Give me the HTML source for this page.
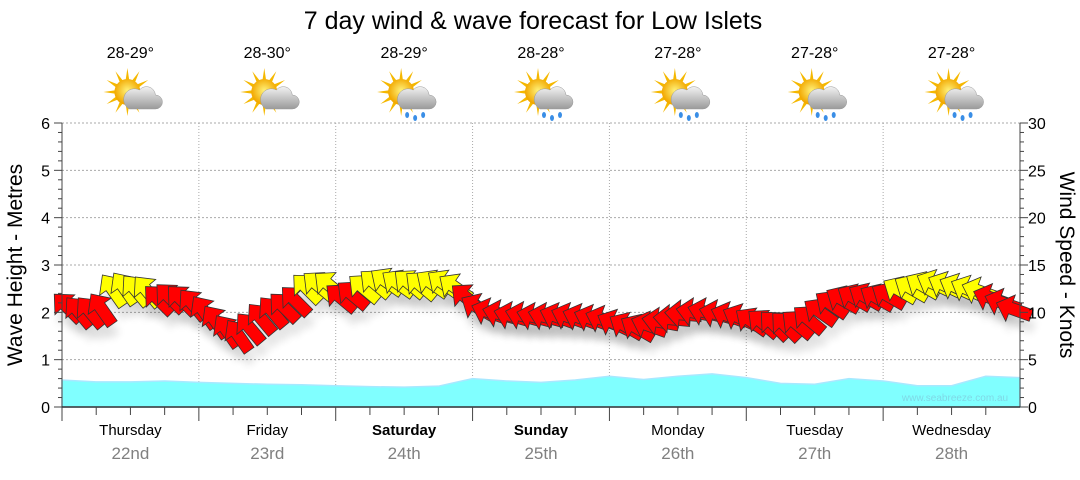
<!DOCTYPE html>
<html><head><meta charset="utf-8"><style>
body{margin:0;background:#fff;font-family:"Liberation Sans",sans-serif}
svg text{font-family:"Liberation Sans",sans-serif}
</style></head><body>
<svg id="c" width="1080" height="475" xmlns="http://www.w3.org/2000/svg">
<defs>
<radialGradient id="sun" cx="50%" cy="45%" r="50%"><stop offset="0" stop-color="#fff27a"/><stop offset="1" stop-color="#f2a800"/></radialGradient>
<linearGradient id="cloud" x1="0" y1="0" x2="0" y2="1"><stop offset="0" stop-color="#f2f2f2"/><stop offset="1" stop-color="#9a9a9a"/></linearGradient>
<filter id="sh" x="-50%" y="-50%" width="200%" height="200%"><feGaussianBlur stdDeviation="4"/></filter>
</defs>
<text x="533" y="29" font-size="25" text-anchor="middle" fill="#000">7 day wind &amp; wave forecast for Low Islets</text>
<g id="grid"></g><g id="waves"></g><g id="winds"></g><g id="axes"></g><g id="top"></g>
<text x="955" y="401" font-size="10" text-anchor="middle" fill="#7fd8e6">www.seabreeze.com.au</text>
<text transform="translate(22,265) rotate(-90)" font-size="21" text-anchor="middle">Wave Height - Metres</text>
<text transform="translate(1060,265) rotate(90)" font-size="21" text-anchor="middle">Wind Speed - Knots</text>
</svg>
<script>
const days=["Thursday","Friday","Saturday","Sunday","Monday","Tuesday","Wednesday"];
const dates=["22nd","23rd","24th","25th","26th","27th","28th"];
const bold=[false,false,true,true,false,false,false];
const temps=["28-29°","28-30°","28-29°","28-28°","27-28°","27-28°","27-28°"];
const rain=[false,false,true,true,true,true,true];
const leftTicks=[0,1,2,3,4,5,6];
const rightTicks=[0,5,10,15,20,25,30];
const waveHeights=[0.57,0.53,0.53,0.55,0.52,0.50,0.48,0.47,0.45,0.43,0.42,0.44,0.60,0.55,0.52,0.57,0.65,0.58,0.65,0.70,0.62,0.50,0.48,0.60,0.55,0.45,0.45,0.65,0.62];
const windSpeeds=[10.5,10,10,10.3,12.3,12.5,12.3,12.2,11.3,11.5,11.3,10.8,
10,9,8,7.5,8.3,9.3,10,10.5,11.2,12.5,12.8,12.8,
11.5,11.8,12.5,13,13.2,13,13,12.8,13,13,12.6,11.5,
10.5,10,9.8,9.6,9.6,9.5,9.5,9.5,9.5,9.4,9.3,9.2,
8.8,8.5,8.3,8.6,9,9.3,9.8,10,10,9.8,9.6,9.4,
9,8.8,8.6,8.5,8.7,9.2,10,10.8,11.3,11.5,11.6,11.5,
11.7,12.3,12.5,12.8,13,12.8,12.6,12.4,12.2,11.5,11,10.3];
const windDirs=[-135,-130,-130,-125,-125,-125,-130,-130,-135,-135,-135,-130,
-125,-125,-125,-125,-130,-130,-130,-135,-135,-135,-140,-140,
-140,-140,-140,-140,-145,-145,-140,-140,-145,-145,-145,-140,
-150,-160,-165,-165,-165,-165,-165,-160,-160,-160,-160,-160,
-155,-150,-150,-160,-170,-175,-175,-170,-165,-165,-160,-155,
-145,-140,-135,-135,-140,-140,-145,-145,-150,-150,-150,-150,
-150,-150,-150,-150,-155,-155,-155,-155,-160,-160,-160,-160];
const X0=62,X1=1020,Y0=407,Y1=123,DW=(X1-X0)/7,PER=12;
const yL=v=>Y0-(v/6)*(Y0-Y1), yR=v=>Y0-(v/30)*(Y0-Y1);
const NS="http://www.w3.org/2000/svg";
function mk(t,a,p){const e=document.createElementNS(NS,t);for(const k in a)e.setAttribute(k,a[k]);p.appendChild(e);return e;}
const grid=document.getElementById('grid'),axes=document.getElementById('axes'),wv=document.getElementById('waves'),wd=document.getElementById('winds'),top_=document.getElementById('top');
leftTicks.forEach(v=>{if(v>0){const l=mk('line',{x1:X0,x2:X1,y1:yL(v),y2:yL(v),stroke:'#aaa','stroke-dasharray':'2,2'},grid);

}
const t=mk('text',{x:50,y:yL(v)+6,'font-size':16,'text-anchor':'end'},axes);t.textContent=v;

});
rightTicks.forEach(v=>{const t=mk('text',{x:1028,y:yR(v)+6,'font-size':16},axes);t.textContent=v;

});
for(let i=0;i<=30;i++){const y=Y0-i*(Y0-Y1)/30;const len=i%5==0?8:4;mk('line',{x1:X0-len,x2:X0,y1:y,y2:y,stroke:'#444'},axes);mk('line',{x1:X1,x2:X1+len,y1:y,y2:y,stroke:'#444'},axes);}
mk('line',{x1:X0,x2:X0,y1:Y1,y2:Y0,stroke:'#444'},axes);mk('line',{x1:X1,x2:X1,y1:Y1,y2:Y0,stroke:'#444'},axes);
mk('line',{x1:X0,x2:X1,y1:Y0,y2:Y0,stroke:'#333','stroke-width':1.5},axes);
for(let d=0;d<7;d++){const x=X0+d*DW;
if(d>0){const l=mk('line',{x1:x,x2:x,y1:Y1,y2:Y0,stroke:'#aaa','stroke-dasharray':'1,2'},grid);

}
for(let k=0;k<4;k++){mk('line',{x1:x+k*DW/4,x2:x+k*DW/4,y1:Y0,y2:Y0+(k==0?14:8),stroke:'#444'},axes);}
const cx=x+DW/2;
const a=mk('text',{x:cx,y:435,'font-size':15,'text-anchor':'middle','font-weight':bold[d]?'bold':'normal'},axes);a.textContent=days[d];


const b=mk('text',{x:cx,y:459,'font-size':17,'text-anchor':'middle',fill:'#808080'},axes);b.textContent=dates[d];


const t=mk('text',{x:cx,y:58,'font-size':16,'text-anchor':'middle'},top_);t.textContent=temps[d];


const g=mk('g',{transform:`translate(${cx-3},95)`},top_);


for(let r=0;r<12;r++){const ang=r*30*Math.PI/180;mk('polygon',{points:`${Math.cos(ang-0.15)*12},${Math.sin(ang-0.15)*12-3} ${Math.cos(ang)*24},${Math.sin(ang)*24-3} ${Math.cos(ang+0.15)*12},${Math.sin(ang+0.15)*12-3}`,fill:'#f5b800'},g);}
mk('circle',{cx:0,cy:-3,r:13,fill:'url(#sun)'},g);
mk('path',{d:'M2,14 h26 a7,7 0 0 0 0,-14 a9,9 0 0 0 -16,-5 a8,8 0 0 0 -10,19z',fill:'url(#cloud)',stroke:'#999','stroke-width':0.5},g);
if(rain[d]){[6,14,22].forEach((dx,i)=>{mk('ellipse',{cx:dx,cy:20+(i%2)*3,rx:2,ry:3,fill:'#3a8ee6'},g);});}
}
let pts=`${X0},${Y0} `;waveHeights.forEach((v,i)=>{pts+=`${X0+i*(X1-X0)/(waveHeights.length-1)},${yL(v)} `;});pts+=`${X1},${Y0}`;
const wp=mk('polygon',{points:pts,fill:'#80ffff',stroke:'#a8e8ff','stroke-width':1.5},wv);


const arrow='M-18,-6 L4,-6 L4,-14 L19,0 L4,14 L4,6 L-18,6 Z';
windSpeeds.forEach((s,i)=>{const x=X0+(i+0.5)*DW/PER,y=yR(s);
mk('path',{d:arrow,transform:`translate(${x+3},${y+12}) rotate(${windDirs[i]})`,fill:'#000',opacity:0.1,filter:'url(#sh)'},wd);});
windSpeeds.forEach((s,i)=>{const x=X0+(i+0.5)*DW/PER,y=yR(s);
const p=mk('path',{d:arrow,transform:`translate(${x},${y}) rotate(${windDirs[i]})`,fill:s>=12?'#ffff00':'#ff0000',stroke:'#333','stroke-width':0.8},wd);

});
</script>
</body></html>
